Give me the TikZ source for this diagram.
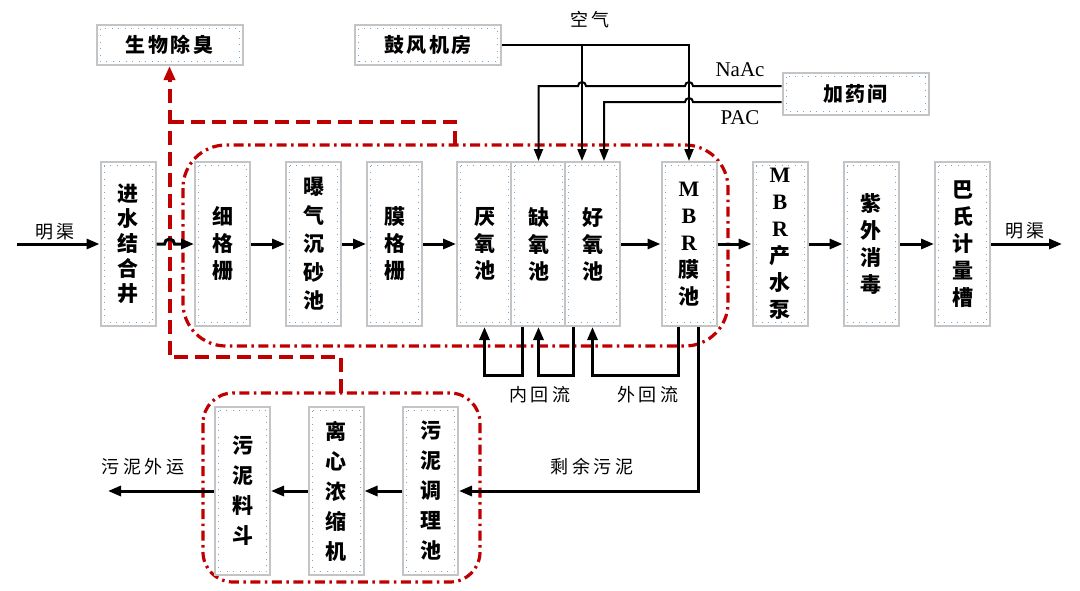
\documentclass[tikz,border=0pt]{standalone}
\usepackage{fontspec}
\setmainfont{Liberation Serif}
\newfontfamily\cjk{Noto Sans CJK SC}
\newfontfamily\cjkl[LetterSpace=20]{Noto Sans CJK SC}
\newfontfamily\cjkt[LetterSpace=12]{Noto Sans CJK SC}
\usetikzlibrary{arrows.meta,calc}
\definecolor{dred}{HTML}{C00000}
\definecolor{boxgray}{HTML}{C4C4C4}
\definecolor{dotblue}{HTML}{6FA8DC}
\tikzset{
  bluedots/.style={dotblue, line width=1pt, dash pattern=on 1pt off 5.5pt},
  boxbase/.style={draw=boxgray, line width=2pt, fill=white, inner sep=0pt, align=center,
    path picture={\draw[bluedots] ([shift={(3.5pt,-3.5pt)}]path picture bounding box.north west) rectangle ([shift={(-3.5pt,3.5pt)}]path picture bounding box.south east);}},
  vbox/.style={boxbase, minimum width=55pt, minimum height=164pt, font=\cjk\bfseries\fontsize{21}{27}\selectfont},
  lbox/.style={boxbase, minimum width=55pt, minimum height=168pt, font=\cjk\bfseries\fontsize{21}{30}\selectfont},
  tbox/.style={boxbase, minimum width=146pt, minimum height=40pt, font=\cjkt\bfseries\fontsize{20}{22}\selectfont},
  lab/.style={inner sep=0pt, font=\cjkl\fontsize{18}{20}\selectfont},
  elab/.style={inner sep=0pt, font=\fontsize{21}{22}\selectfont},
  latb/.style={},
  flow/.style={line width=3pt, -{Triangle[length=13pt,width=10pt]}},
  thinflow/.style={line width=2pt, -{Triangle[length=12pt,width=9pt]}},
  reddash/.style={dred, line width=4pt, dash pattern=on 14pt off 7pt},
  reddot/.style={dred, line width=3.2pt, dash pattern=on 10pt off 4.5pt on 2.5pt off 4.5pt},
}
\newcommand{\lat}[1]{{\rmfamily\fontsize{22}{27}\selectfont #1}}
\begin{document}
\begin{tikzpicture}[x=1pt,y=-1pt]
\useasboundingbox (0,0) rectangle (1080,590);
\fill[white] (0,0) rectangle (1080,590);

% red grouping frames
\coordinate (i1) at (183,145);
\coordinate (i2) at (728,346);
\draw[reddot, rounded corners=43pt] (i1) rectangle (i2);
\coordinate (b1) at (203,393);
\coordinate (b2) at (480,582);
\draw[reddot, rounded corners=30pt] (b1) rectangle (b2);

% top boxes
\node[tbox] (sw) at (169.5,45) {生物除臭};
\node[tbox] (blow) at (428,45) {鼓风机房};
\node[tbox, minimum height=42pt] (jy) at (855.5,94) {加药间};

% main row
\node[vbox, font=\cjk\bfseries\fontsize{21}{25}\selectfont] (jin) at (128,244) {进\\水\\结\\合\\井};
\node[vbox] (xi) at (222.5,244) {细\\格\\栅};
\node[vbox, font=\cjk\bfseries\fontsize{21}{28.5}\selectfont] (cs) at (313.5,244) {曝\\气\\沉\\砂\\池};
\node[vbox] (mg) at (394.5,244) {膜\\格\\栅};
\node[vbox] (yan) at (484.5,244) {厌\\氧\\池};
\node[vbox] (que) at (538.5,244) {缺\\氧\\池};
\node[vbox] (hao) at (592.5,244) {好\\氧\\池};
\node[vbox] (mbr) at (689,244) {\lat{M}\\\lat{B}\\\lat{R}\\膜\\池};
\node[vbox] (pump) at (780,244) {\lat{M}\\\lat{B}\\\lat{R}\\产\\水\\泵};
\node[vbox] (uv) at (871,244) {紫\\外\\消\\毒};
\node[vbox] (bs) at (962.5,244) {巴\\氏\\计\\量\\槽};

% sludge row
\node[lbox] (liao) at (242.5,491) {污\\泥\\料\\斗};
\node[lbox] (li) at (336,491) {离\\心\\浓\\缩\\机};
\node[lbox] (tiao) at (430.5,491) {污\\泥\\调\\理\\池};

% red dashed odour lines
\coordinate (rj) at (455,145);
\coordinate (yd1) at (0,122);
\coordinate (bj) at (341,393);
\coordinate (yd2) at (0,357);
\draw[reddash] (rj) |- (sw.south |- yd1);
\draw[reddash, -{Triangle[length=14pt,width=11pt]}] (bj) |- (sw.south |- yd2) -- (sw.south);

% main flow
\coordinate (inl) at (17,244);
\coordinate (outr) at (1062,244);
\draw[flow] (inl) -- (jin.west);
\draw[flow] (jin.east) -- ($(jin.east -| sw.south)+(-5,0)$) arc[start angle=180,end angle=0,radius=5pt] -- (xi.west);
\draw[flow] (xi.east) -- (cs.west);
\draw[flow] (cs.east) -- (mg.west);
\draw[flow] (mg.east) -- (yan.west);
\draw[flow] (hao.east) -- (mbr.west);
\draw[flow] (mbr.east) -- (pump.west);
\draw[flow] (pump.east) -- (uv.west);
\draw[flow] (uv.east) -- (bs.west);
\draw[flow] (bs.east) -- (outr);

% air and chemicals
\coordinate (xair) at (582,0);
\coordinate (xpac) at (604,0);
\coordinate (naac) at ($(jy.west)+(0,-8)$);
\coordinate (pac) at ($(jy.west)+(0,8)$);
\draw[thinflow] (blow.east) -| (mbr.north);
\draw[thinflow] (blow.east -| xair) -- (xair |- hao.north);
\draw[thinflow] (naac) -- ($(naac -| mbr.north)+(4,0)$) arc[start angle=0,end angle=180,radius=4pt]
  -- ($(naac -| xair)+(4,0)$) arc[start angle=0,end angle=180,radius=4pt]
  -- (naac -| que.north) -- (que.north);
\draw[thinflow] (pac) -- ($(pac -| mbr.north)+(4,0)$) arc[start angle=0,end angle=180,radius=4pt]
  -- (pac -| xpac) -- (xpac |- hao.north);

% recirculation
\coordinate (ybot) at (0,375);
\draw[flow] ($(que.south)+(-16.5,0)$) |- (yan.south |- ybot) -- (yan.south);
\draw[flow] ($(hao.south)+(-19.5,0)$) |- (que.south |- ybot) -- (que.south);
\draw[flow] ($(mbr.south)+(-11,0)$) |- (hao.south |- ybot) -- (hao.south);
\draw[flow] ($(mbr.south)+(9,0)$) |- (tiao.east);

% sludge line
\coordinate (sout) at (108,491);
\draw[flow] (tiao.west) -- (li.east);
\draw[flow] (li.west) -- (liao.east);
\draw[flow] (liao.west) -- (sout);

% labels
\node[lab] (l1) at (55,232) {明渠};
\node[lab] (l2) at (1025,231) {明渠};
\node[lab] (l3) at (590,20) {空气};
\node[elab] (l4) at (740,70) {NaAc};
\node[elab] (l5) at (740,118) {PAC};
\node[lab] (l6) at (540,395) {内回流};
\node[lab] (l7) at (648,395) {外回流};
\node[lab] (l8) at (592,467) {剩余污泥};
\node[lab] (l9) at (143,467) {污泥外运};
\end{tikzpicture}
\end{document}
